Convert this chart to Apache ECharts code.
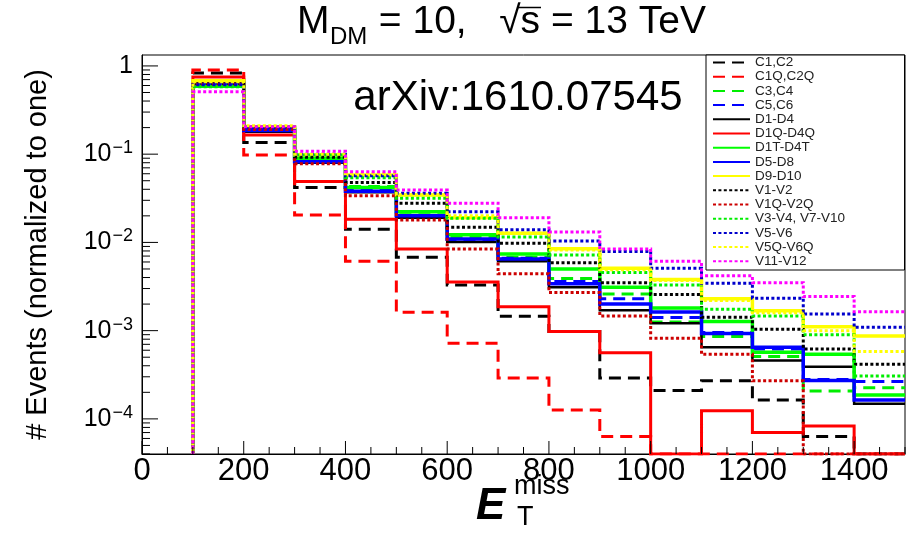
<!DOCTYPE html>
<html><head><meta charset="utf-8">
<script src="https://cdn.jsdelivr.net/npm/echarts@6/dist/echarts.min.js"></script>
<style>html,body{margin:0;padding:0;background:#fff}#c{width:909px;height:534px}</style>
</head><body><div id="c"></div>
<script>
// histogram bin edges (GeV)
const binEdges = [100,200,300,400,500,600,700,800,900,1000,1100,1200,1300,1400,1500];
// normalized event fractions per bin (0 = empty bin)
const C1C2   = [0.83,0.136,0.042,0.0141,0.0068,0.0033,0.00146,0.00098,0.00029,0.00021,0.00027,0.000164,0.000063,0];
const C1QC2Q = [0.90,0.098,0.0205,0.0061,0.00162,0.00072,0.00029,0.000126,0.000063,0,0,0,0,0];
const C3C4   = [0.61,0.19,0.088,0.043,0.022,0.0115,0.0068,0.0039,0.0026,0.00125,0.00086,0.00051,0.000207,0.000226];
const C5C6   = [0.64,0.19,0.083,0.039,0.020,0.0108,0.0066,0.0036,0.0023,0.00141,0.00095,0.00062,0.00028,0.000265];
const D1D4   = [0.69,0.18,0.080,0.037,0.019,0.0101,0.0061,0.0031,0.0017,0.00121,0.00065,0.00046,0.00039,0.000148];
const D1QD4Q = [0.75,0.165,0.049,0.0183,0.0084,0.00356,0.00187,0.00098,0.00056,0,0.000124,0.000070,0.000083,0];
const D1TD4T = [0.59,0.19,0.090,0.042,0.0223,0.0122,0.0074,0.0050,0.0031,0.0018,0.00127,0.00057,0.00054,0.000187];
const D5D8   = [0.64,0.185,0.082,0.038,0.020,0.0109,0.0065,0.0034,0.0020,0.00163,0.00093,0.00065,0.000272,0.000164];
const D9D10  = [0.68,0.205,0.098,0.058,0.0345,0.019,0.0127,0.0085,0.0051,0.0038,0.0023,0.00168,0.00111,0.00087];
const V1V2   = [0.63,0.20,0.092,0.0476,0.0278,0.0149,0.0098,0.0059,0.0035,0.00256,0.00142,0.00104,0.00062,0.000417];
const V1QV2Q = [0.62,0.19,0.078,0.0337,0.018,0.0084,0.0044,0.0027,0.00147,0.00082,0.00054,0.00027,0,0];
const V3V4   = [0.58,0.205,0.098,0.054,0.0317,0.0188,0.0115,0.0072,0.00455,0.0033,0.00175,0.00147,0.0009,0.000307];
const V5V6   = [0.61,0.20,0.10,0.057,0.036,0.0223,0.0139,0.0104,0.0079,0.0051,0.00345,0.00233,0.00154,0.00109];
const V5QV6Q = [0.66,0.21,0.10,0.060,0.0345,0.020,0.0127,0.0082,0.0049,0.0037,0.0022,0.0016,0.00100,0.00058];
const V11V12 = [0.51,0.205,0.108,0.0634,0.0393,0.0278,0.019,0.0131,0.0084,0.0061,0.0042,0.0035,0.00243,0.00164];

const seriesNames = ['C1,C2','C1Q,C2Q','C3,C4','C5,C6','D1-D4','D1Q-D4Q','D1T-D4T','D5-D8','D9-D10',
  'V1-V2','V1Q-V2Q','V3-V4, V7-V10','V5-V6','V5Q-V6Q','V11-V12'];
const seriesValues = [C1C2,C1QC2Q,C3C4,C5C6,D1D4,D1QD4Q,D1TD4T,D5D8,D9D10,V1V2,V1QV2Q,V3V4,V5V6,V5QV6Q,V11V12];

const xTickLabelValues = [0,200,400,600,800,1000,1200,1400];
const yTickValues = [1e-4,1e-3,1e-2,1e-1,1];
const yTickLabels = ['{b|10}{s|\u22124}','{b|10}{s|\u22123}','{b|10}{s|\u22122}','{b|10}{s|\u22121}','{b|1}'];

const YMIN = 4.0e-5, YMAX = 1.33, XMIN = 0, XMAX = 1500;

// styles
const DASH = [12,7], DOT = [3,2.4];
const styles = [
  {c:'#000000', t:DASH, w:3}, {c:'#ff0000', t:DASH, w:3}, {c:'#00ee00', t:DASH, w:3}, {c:'#0000ff', t:DASH, w:3},
  {c:'#000000', t:'solid', w:2.5}, {c:'#ff0000', t:'solid', w:3}, {c:'#00ff00', t:'solid', w:3.5}, {c:'#0000ff', t:'solid', w:3.5}, {c:'#ffff00', t:'solid', w:3.5},
  {c:'#000000', t:DOT, w:3}, {c:'#cc0000', t:DOT, w:3}, {c:'#00ee00', t:DOT, w:3}, {c:'#0000cc', t:DOT, w:3}, {c:'#ffff00', t:DOT, w:3}, {c:'#ff00ff', t:DOT, w:3}
];

function steps(vals){
  const pts = [[binEdges[0], YMIN]];
  vals.forEach((v,i)=>{ const y = Math.max(v, YMIN); pts.push([binEdges[i], y], [binEdges[i+1], y]); });
  return pts;
}

// tick marks (positions only)
const tickData = [];
for (let x = XMIN; x <= XMAX; x += 50) tickData.push([x, YMIN, x % 200 === 0 ? 13 : 7, 0]);
for (let e = -5; e <= 0; e++) for (let m = 1; m <= 9; m++) {
  const v = m * Math.pow(10, e);
  if (v >= YMIN && v <= YMAX) tickData.push([XMIN, v, m === 1 ? 16 : 8, 1]);
}

const FONT = "'Liberation Sans', Arial, Helvetica, sans-serif";
const F = (s, w) => (w ? w + ' ' : '') + s + "px 'Liberation Sans', Arial, sans-serif";

const series = seriesValues.map((vals, i) => ({
  name: seriesNames[i], type: 'line', data: steps(vals), symbol: 'none', showSymbol: false,
  color: styles[i].c, lineStyle: {color: styles[i].c, type: styles[i].t, width: styles[i].w, cap: 'butt', join: 'miter'},
  animation: false, z: 2, clip: true, silent: true
}));
series.push({
  type: 'custom', data: tickData, silent: true, clip: false, z: 6, animation: false,
  renderItem: function(params, api){
    const p = api.coord([api.value(0), api.value(1)]);
    const len = api.value(2), dir = api.value(3);
    const end = dir === 0 ? [p[0], p[1] - len] : [p[0] + len, p[1]];
    return {type:'line', shape:{x1:p[0], y1:p[1], x2:end[0], y2:end[1]}, style:{stroke:'#000', lineWidth:1}};
  }
});

const chart = echarts.init(document.getElementById('c'), null, {renderer:'canvas'});
chart.setOption({
  backgroundColor: '#fff',
  animation: false,
  grid: {left:142, right:4, top:55, bottom:80, show:true, borderColor:'#000', borderWidth:1, backgroundColor:'transparent'},
  xAxis: {
    type:'value', min:XMIN, max:XMAX, interval:50,
    axisLine:{show:true, lineStyle:{color:'#000', width:1}}, axisTick:{show:false}, splitLine:{show:false},
    axisLabel:{
      margin:2, color:'#000', fontSize:31, fontFamily:FONT,
      formatter: v => xTickLabelValues.indexOf(v) >= 0 ? String(v) : '',
      showMaxLabel:false
    }
  },
  yAxis: {
    type:'log', logBase:10, min:YMIN, max:YMAX,
    axisLine:{show:true, lineStyle:{color:'#000', width:1}}, axisTick:{show:false}, splitLine:{show:false}, minorTick:{show:false},
    axisLabel:{
      margin:9, color:'#000', fontFamily:FONT, showMinLabel:false, showMaxLabel:false,
      formatter: v => {
        for (let i = 0; i < yTickValues.length; i++) if (Math.abs(Math.log10(v) - Math.log10(yTickValues[i])) < 1e-6) return yTickLabels[i];
        return '';
      },
      rich:{
        b:{fontSize:25, fontFamily:FONT, color:'#000', lineHeight:30},
        s:{fontSize:18, fontFamily:FONT, color:'#000', verticalAlign:'top', lineHeight:18, padding:[0,0,0,1]}
      }
    },
    name:'# Events (normalized to one)', nameLocation:'middle', nameRotate:90, nameGap:90,
    nameTextStyle:{fontSize:29, fontFamily:FONT, color:'#000'}
  },
  legend: {
    orient:'vertical', left:712, top:55.5, itemWidth:37, itemHeight:14, itemGap:0.2, padding:0,
    selectedMode:false, z:10, itemStyle:{opacity:0, borderWidth:0},
    textStyle:{fontSize:13.5, fontFamily:FONT, color:'#222', lineHeight:14},
    data: seriesNames
  },
  graphic: [
    {type:'rect', z:8, shape:{x:706, y:55, width:198.5, height:215}, style:{fill:'#fff', stroke:'#000', lineWidth:1}},
    {type:'text', z:10, x:518, y:98.5, style:{text:'arXiv:1610.07545', font:F(42), fill:'#000', textAlign:'center', textVerticalAlign:'middle'}},
    {type:'text', z:10, x:297, y:22, style:{text:'M', font:F(39), fill:'#000', textAlign:'left', textVerticalAlign:'middle'}},
    {type:'text', z:10, x:330, y:37, style:{text:'DM', font:F(24), fill:'#000', textAlign:'left', textVerticalAlign:'middle'}},
    {type:'text', z:10, x:368, y:22, style:{text:' = 10,   \u221As = 13 TeV', font:F(39), fill:'#000', textAlign:'left', textVerticalAlign:'middle'}},
    {type:'line', z:10, shape:{x1:517, y1:7.5, x2:541, y2:7.5}, style:{stroke:'#000', lineWidth:1.5}},
    {type:'text', z:10, x:476, y:507, style:{text:'E', font:F(44,'italic bold'), fill:'#000', textAlign:'left', textVerticalAlign:'middle'}},
    {type:'text', z:10, x:514, y:487, style:{text:'miss', font:F(27), fill:'#000', textAlign:'left', textVerticalAlign:'middle'}},
    {type:'text', z:10, x:517, y:518, style:{text:'T', font:F(27), fill:'#000', textAlign:'left', textVerticalAlign:'middle'}}
  ],
  series: series
});
</script>
</body></html>
